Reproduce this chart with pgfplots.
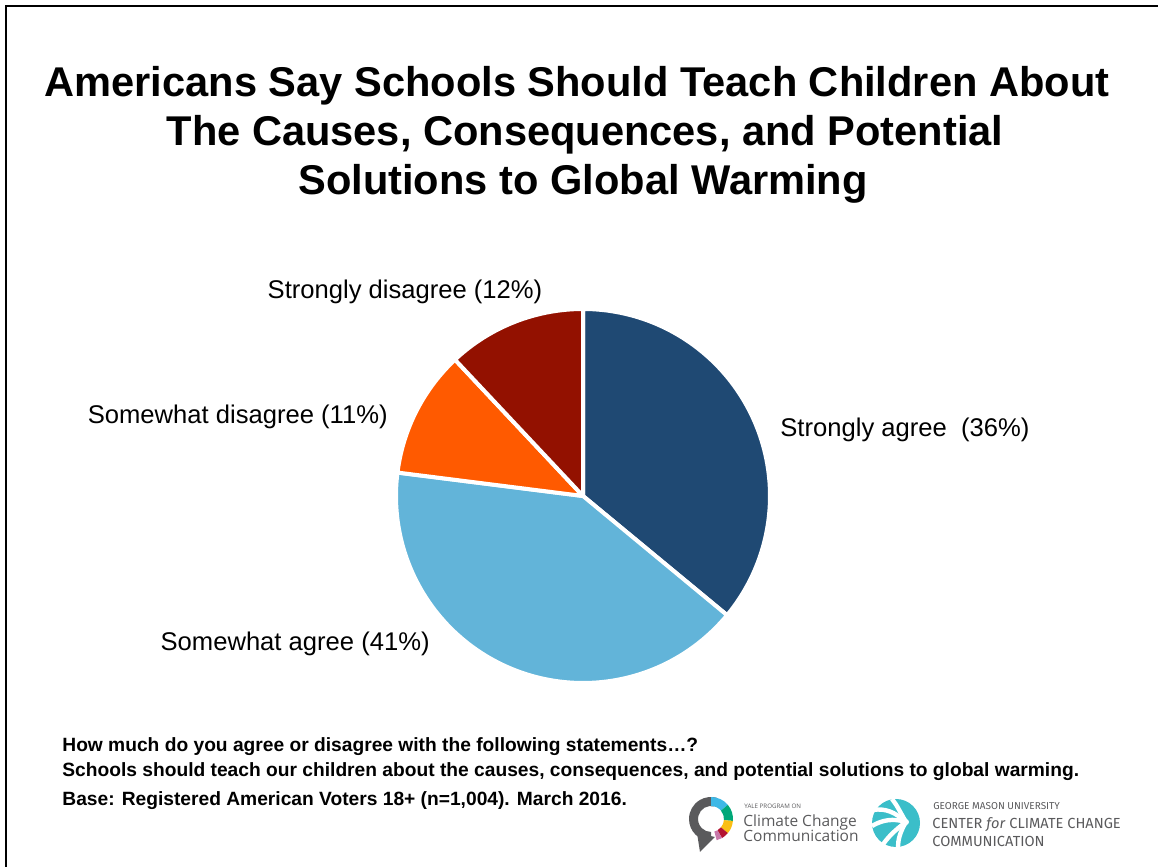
\documentclass[border=0pt]{standalone}
\usepackage{pgfplots}
\pgfplotsset{compat=1.18}
\usepackage{pgfplotstable}
\usepackage{fontspec}
\setmainfont{Liberation Sans}
\newfontfamily\logofont{Open Sans}
\newfontfamily\gmufont{Fira Sans}
\definecolor{cSA}{RGB}{31,73,115}
\definecolor{cMA}{RGB}{98,180,217}
\definecolor{cMD}{RGB}{255,90,0}
\definecolor{cSD}{RGB}{147,17,0}
\definecolor{lgray}{RGB}{90,90,92}
\definecolor{gmuteal}{RGB}{59,190,201}
\definecolor{yblue}{RGB}{62,184,230}
\definecolor{ygreen}{RGB}{0,168,120}
\definecolor{yyellow}{RGB}{250,190,20}
\definecolor{yred}{RGB}{180,20,50}
\definecolor{ypink}{RGB}{200,120,170}
\pgfplotstableread{
label value
StronglyAgree 36
SomewhatAgree 41
SomewhatDisagree 11
StronglyDisagree 12
}\piedata
\pgfplotstablegetelem{0}{value}\of\piedata \let\vA\pgfplotsretval
\pgfplotstablegetelem{1}{value}\of\piedata \let\vB\pgfplotsretval
\pgfplotstablegetelem{2}{value}\of\piedata \let\vC\pgfplotsretval
\pgfplotstablegetelem{3}{value}\of\piedata \let\vD\pgfplotsretval
\pgfmathsetmacro\aA{90}
\pgfmathsetmacro\aB{\aA-3.6*\vA}
\pgfmathsetmacro\aC{\aB-3.6*\vB}
\pgfmathsetmacro\aD{\aC-3.6*\vC}
\pgfmathsetmacro\aE{\aD-3.6*\vD}
\begin{document}
\begin{tikzpicture}
\path[use as bounding box] (0pt,0pt) rectangle (579pt,433.5pt);
\begin{axis}[at={(291.5pt,185.5pt)}, anchor=center, width=187pt, height=187pt,
  scale only axis, hide axis, clip=false,
  xmin=-1, xmax=1, ymin=-1, ymax=1]
\addplot[fill=cSA, draw=white, line width=2pt, line join=round, domain=\aA:\aB, samples=90] ({cos(x)},{sin(x)}) -- (axis cs:0,0) -- cycle;
\addplot[fill=cMA, draw=white, line width=2pt, line join=round, domain=\aB:\aC, samples=100] ({cos(x)},{sin(x)}) -- (axis cs:0,0) -- cycle;
\addplot[fill=cMD, draw=white, line width=2pt, line join=round, domain=\aC:\aD, samples=40] ({cos(x)},{sin(x)}) -- (axis cs:0,0) -- cycle;
\addplot[fill=cSD, draw=white, line width=2pt, line join=round, domain=\aD:\aE, samples=40] ({cos(x)},{sin(x)}) -- (axis cs:0,0) -- cycle;
\end{axis}
\begin{scope}[x=0.5pt, y=-0.5pt, yshift=433.5pt]
% frame
\draw[line width=1.3pt] (6,867) -- (6,6) -- (1158,6);
% title
\node[anchor=base, font=\fontsize{20.8}{24}\selectfont\bfseries] at (577,97) {Americans Say Schools Should Teach Children About};
\node[anchor=base, font=\fontsize{20.8}{24}\selectfont\bfseries] at (585,146) {The Causes, Consequences, and Potential};
\node[anchor=base, font=\fontsize{20.8}{24}\selectfont\bfseries] at (583,195) {Solutions to Global Warming};
% labels
\node[anchor=base, inner sep=0pt, font=\fontsize{12.8}{15}\selectfont] at (405,299) {Strongly disagree (12\%)};
\node[anchor=base east, inner sep=0pt, font=\fontsize{12.8}{15}\selectfont] at (388,424) {Somewhat disagree (11\%)};
\node[anchor=base west, inner sep=0pt, font=\fontsize{12.8}{15}\selectfont] at (780,437) {Strongly agree\ \ (36\%)};
\node[anchor=base east, inner sep=0pt, font=\fontsize{12.8}{15}\selectfont] at (430,651) {Somewhat agree (41\%)};
% footer
\node[anchor=base west, inner sep=0pt, font=\fontsize{9.6}{11}\selectfont\bfseries] at (62,752) {How much do you agree or disagree with the following statements\dots?};
\node[anchor=base west, inner sep=0pt, font=\fontsize{9.6}{11}\selectfont\bfseries] at (62,777) {Schools should teach our children about the causes, consequences, and potential solutions to global warming.};
\node[anchor=base west, inner sep=0pt, font=\fontsize{9.6}{11}\selectfont\bfseries] at (62,806) {Base: Registered American Voters 18+ (n=1,004). March 2016.};
% Yale logo
\begin{scope}[shift={(711,819)}]
\fill[lgray] (-14,14) -- (-11,33) -- (4,18) -- cycle;
\fill[lgray] (90:22) arc (90:285:22) -- (285:13) arc (285:90:13) -- cycle;
\fill[yblue] (-90:22) arc (-90:-40:22) -- (-40:13) arc (-40:-90:13) -- cycle;
\fill[ygreen] (-40:22) arc (-40:5:22) -- (5:13) arc (5:-40:13) -- cycle;
\fill[yyellow] (5:22) arc (5:40:22) -- (40:13) arc (40:5:13) -- cycle;
\fill[yred] (40:22) arc (40:60:22) -- (60:13) arc (60:40:13) -- cycle;
\fill[ypink] (60:22) arc (60:75:22) -- (75:13) arc (75:60:13) -- cycle;
\end{scope}
\node[anchor=base west, inner sep=0pt, text=lgray, font=\logofont\fontsize{3.1}{4}\selectfont] at (744,809) {YALE PROGRAM ON};
\node[anchor=base west, inner sep=0pt, text=lgray, font=\logofont\fontsize{7.75}{9}\selectfont] at (743,827) {Climate Change};
\node[anchor=base west, inner sep=0pt, text=lgray, font=\logofont\fontsize{7.75}{9}\selectfont] at (743,842) {Communication};
% GMU logo
\fill[gmuteal] (896,823) circle (24);
\begin{scope}[white, line width=2.2pt]
\draw (906,822) .. controls (895,812) and (885,808) .. (873,810);
\draw (906,822) .. controls (893,818) and (882,820) .. (872,826);
\draw (906,822) .. controls (895,830) and (887,838) .. (882,846);
\draw (906,822) .. controls (900,832) and (898,840) .. (898,847);
\draw (906,822) .. controls (900,812) and (897,805) .. (892,799);
\end{scope}
\fill[white] (906,822) circle (3);
\node[anchor=base west, inner sep=0pt, text=lgray, font=\gmufont\fontsize{5}{6}\selectfont] at (933,810) {GEORGE MASON UNIVERSITY};
\node[anchor=base west, inner sep=0pt, text=lgray, font=\gmufont\fontsize{7.3}{9}\selectfont] at (932,829) {CENTER \textit{for} CLIMATE CHANGE};
\node[anchor=base west, inner sep=0pt, text=lgray, font=\gmufont\fontsize{7.3}{9}\selectfont] at (932,847) {COMMUNICATION};
\end{scope}
\end{tikzpicture}
\end{document}
